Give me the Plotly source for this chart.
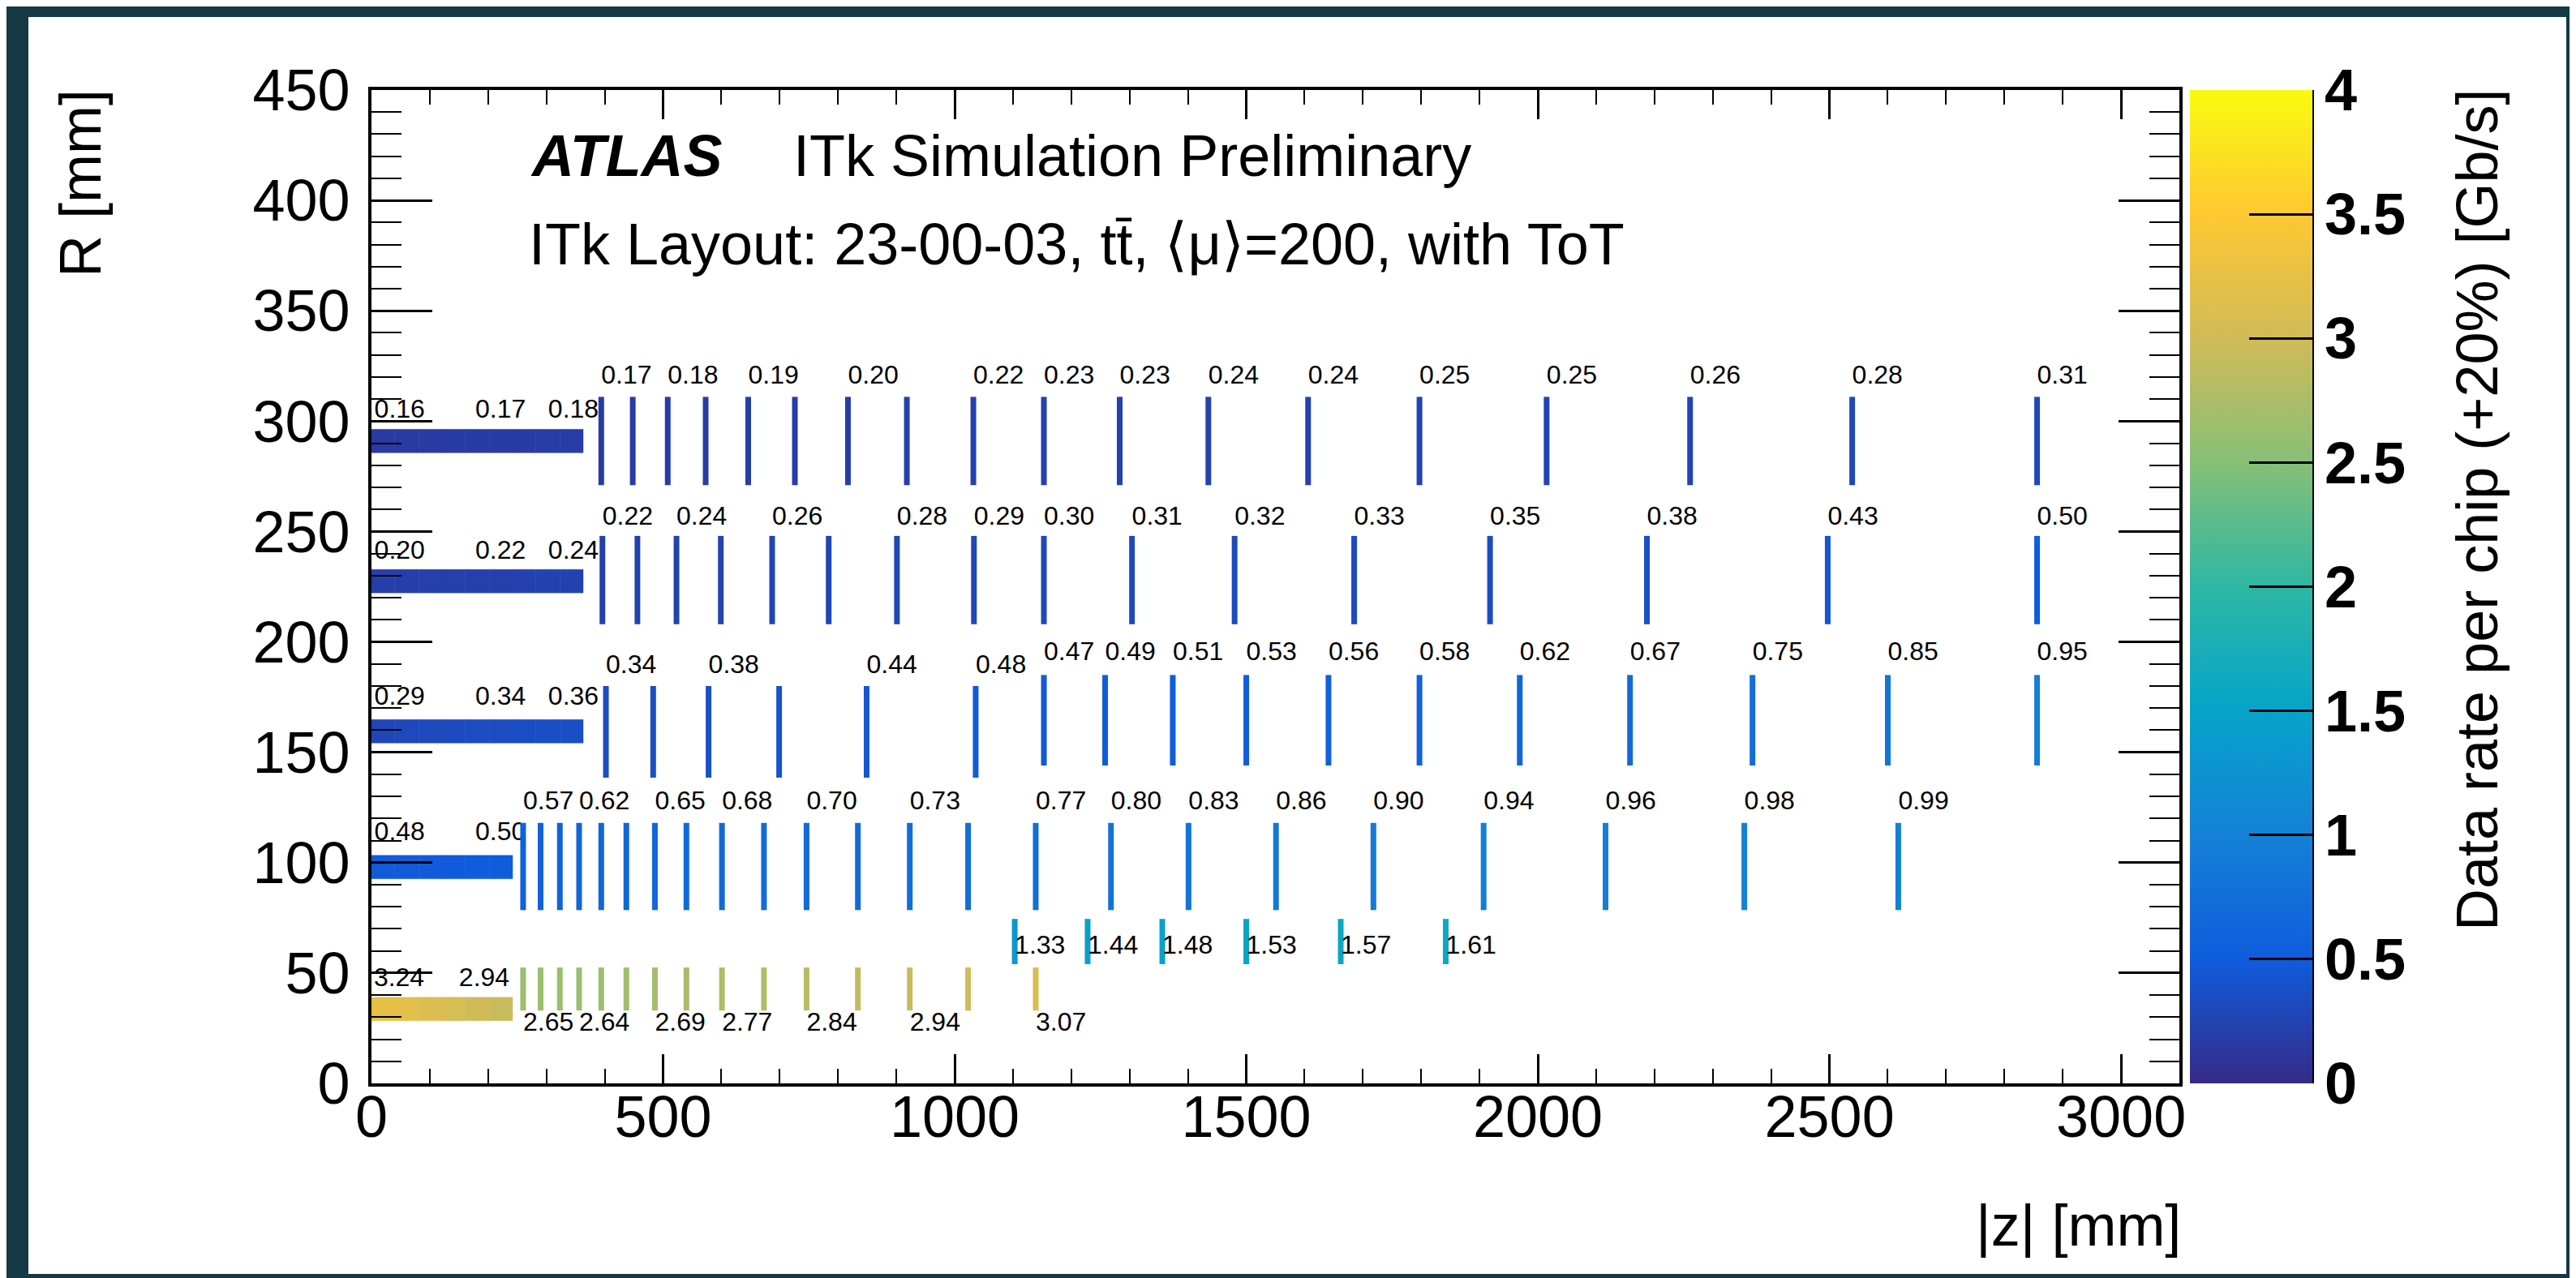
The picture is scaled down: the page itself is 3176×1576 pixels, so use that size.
import plotly.graph_objects as go
from plotly.colors import sample_colorscale

# ---------------- colour palette (ROOT kBird) ----------------
bird_stops = [0.0, 0.125, 0.25, 0.375, 0.5, 0.625, 0.75, 0.875, 1.0]
bird_r = [0.2082, 0.0592, 0.0780, 0.0232, 0.1802, 0.5301, 0.8186, 0.9956, 0.9764]
bird_g = [0.1664, 0.3599, 0.5041, 0.6419, 0.7178, 0.7492, 0.7328, 0.7862, 0.9832]
bird_b = [0.5293, 0.8684, 0.8385, 0.7914, 0.6425, 0.4662, 0.3499, 0.1968, 0.0539]

RATE_MIN, RATE_MAX = 0.0, 4.0

# ---------------- flat barrel layers ----------------
flat_names = ["L4", "L3", "L2", "L1", "L0"]
flat_R = [291, 227.5, 159.5, 98, 33.7]          # layer radius [mm]
flat_module_edges_long = [0, 40, 81, 121, 161, 202, 242, 282, 323, 363]   # |z| edges [mm]
flat_module_edges_short = [0, 40, 81, 121, 161, 202, 242]
L4_flat_rate = [0.16, 0.16, 0.16, 0.17, 0.17, 0.17, 0.17, 0.18, 0.18]
L3_flat_rate = [0.20, 0.20, 0.21, 0.21, 0.22, 0.22, 0.23, 0.24, 0.24]
L2_flat_rate = [0.29, 0.30, 0.31, 0.32, 0.34, 0.34, 0.35, 0.36, 0.36]
L1_flat_rate = [0.48, 0.48, 0.49, 0.49, 0.50, 0.50]
L0_flat_rate = [3.24, 3.20, 3.12, 3.06, 3.00, 2.94]

L4_flat_label_z = [5, 178, 303]
L4_flat_label = ["0.16", "0.17", "0.18"]
L3_flat_label_z = [5, 178, 303]
L3_flat_label = ["0.20", "0.22", "0.24"]
L2_flat_label_z = [5, 178, 303]
L2_flat_label = ["0.29", "0.34", "0.36"]
L1_flat_label_z = [5, 178]
L1_flat_label = ["0.48", "0.50"]
L0_flat_label_z = [4, 150]
L0_flat_label = ["3.24", "2.94"]
flat_label_R = [304.6, 240.5, 174.4, 113.1, 46.9]

# ---------------- rings (end-cap / inclined) ----------------
L4_ring_z = [394, 448, 508, 573, 646, 726, 817, 918, 1032, 1153, 1283, 1435, 1606, 1797, 2015, 2261, 2539, 2856]
L4_ring_rate = [0.17, 0.17, 0.18, 0.18, 0.19, 0.19, 0.20, 0.21, 0.22, 0.23, 0.23, 0.24, 0.24, 0.25, 0.25, 0.26, 0.28, 0.31]
L4_ring_label = ["0.17", "", "0.18", "", "0.19", "", "0.20", "", "0.22", "0.23", "0.23", "0.24", "0.24", "0.25", "0.25", "0.26", "0.28", "0.31"]

L3_ring_z = [396, 456, 523, 599, 687, 784, 901, 1033, 1153, 1304, 1480, 1685, 1918, 2187, 2497, 2856]
L3_ring_rate = [0.22, 0.23, 0.24, 0.25, 0.26, 0.27, 0.28, 0.29, 0.30, 0.31, 0.32, 0.33, 0.35, 0.38, 0.43, 0.50]
L3_ring_label = ["0.22", "", "0.24", "", "0.26", "", "0.28", "0.29", "0.30", "0.31", "0.32", "0.33", "0.35", "0.38", "0.43", "0.50"]

L2a_ring_z = [402, 483, 578, 699, 849, 1036]
L2a_ring_rate = [0.34, 0.36, 0.38, 0.41, 0.44, 0.48]
L2a_ring_label = ["0.34", "", "0.38", "", "0.44", "0.48"]

L2b_ring_z = [1153, 1258, 1374, 1500, 1641, 1797, 1969, 2158, 2368, 2600, 2856]
L2b_ring_rate = [0.47, 0.49, 0.51, 0.53, 0.56, 0.58, 0.62, 0.67, 0.75, 0.85, 0.95]
L2b_ring_label = ["0.47", "0.49", "0.51", "0.53", "0.56", "0.58", "0.62", "0.67", "0.75", "0.85", "0.95"]

L1_ring_z = [260, 290, 323, 356, 394, 437, 486, 540, 601, 673, 746, 834, 923, 1023, 1139, 1268, 1401, 1551, 1718, 1907, 2116, 2354, 2618]
L1_ring_rate = [0.57, 0.58, 0.60, 0.62, 0.63, 0.64, 0.65, 0.67, 0.68, 0.69, 0.70, 0.72, 0.73, 0.75, 0.77, 0.80, 0.83, 0.86, 0.90, 0.94, 0.96, 0.98, 0.99]
L1_ring_label = ["0.57", "", "", "0.62", "", "", "0.65", "", "0.68", "", "0.70", "", "0.73", "", "0.77", "0.80", "0.83", "0.86", "0.90", "0.94", "0.96", "0.98", "0.99"]

L0c_ring_z = [1103, 1228, 1356, 1500, 1662, 1842]
L0c_ring_rate = [1.33, 1.44, 1.48, 1.53, 1.57, 1.61]
L0c_ring_label = ["1.33", "1.44", "1.48", "1.53", "1.57", "1.61"]

L0_ring_z = [260, 290, 323, 356, 394, 437, 486, 540, 601, 673, 746, 834, 923, 1023, 1139]
L0_ring_rate = [2.65, 2.65, 2.64, 2.64, 2.66, 2.67, 2.69, 2.73, 2.77, 2.80, 2.84, 2.89, 2.94, 3.00, 3.07]
L0_ring_label = ["2.65", "", "", "2.64", "", "", "2.69", "", "2.77", "", "2.84", "", "2.94", "", "3.07"]

# radial extent of each ring group and radius of its labels [mm]
ring_groups = [
    (L4_ring_z, L4_ring_rate, L4_ring_label, 271, 311, 320),
    (L3_ring_z, L3_ring_rate, L3_ring_label, 208, 248, 256),
    (L2a_ring_z, L2a_ring_rate, L2a_ring_label, 138.5, 180, 189),
    (L2b_ring_z, L2b_ring_rate, L2b_ring_label, 144, 185, 194.6),
    (L1_ring_z, L1_ring_rate, L1_ring_label, 78.5, 118, 127.2),
    (L0c_ring_z, L0c_ring_rate, L0c_ring_label, 54, 74.5, 61.6),
    (L0_ring_z, L0_ring_rate, L0_ring_label, 33, 52.5, 26.7),
]

flat_groups = [
    (flat_module_edges_long, L4_flat_rate, L4_flat_label_z, L4_flat_label),
    (flat_module_edges_long, L3_flat_rate, L3_flat_label_z, L3_flat_label),
    (flat_module_edges_long, L2_flat_rate, L2_flat_label_z, L2_flat_label),
    (flat_module_edges_short, L1_flat_rate, L1_flat_label_z, L1_flat_label),
    (flat_module_edges_short, L0_flat_rate, L0_flat_label_z, L0_flat_label),
]

# ---------------- styling ----------------
FONT = "Liberation Sans, Arial, Helvetica, sans-serif"
colorscale = [[s, "rgb(%d,%d,%d)" % (round(r * 255), round(g * 255), round(b * 255))]
              for s, r, g, b in zip(bird_stops, bird_r, bird_g, bird_b)]


def rate_color(v):
    f = (v - RATE_MIN) / (RATE_MAX - RATE_MIN)
    f = min(max(f, 0.0), 1.0)
    return sample_colorscale(colorscale, [f])[0]


fig = go.Figure()

# flat barrel staves: one filled rectangle per module
half_thick = 5.3
for (edges, rates, lz, lt), R, lR in zip(flat_groups, flat_R, flat_label_R):
    for i, v in enumerate(rates):
        z0, z1 = edges[i], edges[i + 1]
        c = rate_color(v)
        fig.add_trace(go.Scatter(
            x=[z0, z1, z1, z0, z0],
            y=[R - half_thick, R - half_thick, R + half_thick, R + half_thick, R - half_thick],
            mode="lines", fill="toself", fillcolor=c,
            line=dict(width=0.5, color=c),
            hoverinfo="skip", showlegend=False))
    fig.add_trace(go.Scatter(
        x=lz, y=[lR] * len(lz), mode="text", text=lt,
        textposition="middle right",
        textfont=dict(family=FONT, size=32, color="black"),
        hoverinfo="skip", showlegend=False))

# rings
for zs, rates, labels, r0, r1, lR in ring_groups:
    for z, v in zip(zs, rates):
        fig.add_trace(go.Scatter(
            x=[z, z], y=[r0, r1], mode="lines",
            line=dict(width=7, color=rate_color(v)),
            hoverinfo="skip", showlegend=False))
    lx = [z for z, t in zip(zs, labels) if t]
    lt = [t for t in labels if t]
    fig.add_trace(go.Scatter(
        x=lx, y=[lR] * len(lx), mode="text", text=lt,
        textposition="middle right",
        textfont=dict(family=FONT, size=32, color="black"),
        hoverinfo="skip", showlegend=False))

# colour bar carrier (invisible points)
all_rates = [v for g in ring_groups for v in g[1]]
all_z = [z for g in ring_groups for z in g[0]]
all_r = [(g[3] + g[4]) / 2 for g in ring_groups for _ in g[0]]
fig.add_trace(go.Scatter(
    x=all_z, y=all_r, mode="markers",
    marker=dict(size=1, opacity=0, color=all_rates, cmin=RATE_MIN, cmax=RATE_MAX,
                colorscale=colorscale, showscale=True,
                colorbar=dict(
                    x=1.00583, xanchor="left", xpad=0, ypad=0,
                    y=0.5, yanchor="middle", len=1.0, lenmode="fraction",
                    thickness=151, thicknessmode="pixels",
                    outlinewidth=0,
                    tickmode="array",
                    tickvals=[0, 0.5, 1, 1.5, 2, 2.5, 3, 3.5, 4],
                    ticktext=["0", "0.5", "1", "1.5", "2", "2.5", "3", "3.5", "4"],
                    ticks="inside", ticklen=78, tickwidth=3, tickcolor="black",
                    tickfont=dict(family=FONT, size=72, color="black", weight="bold"),
                )),
    hoverinfo="skip", showlegend=False))

# ---------------- layout ----------------
W, H = 3176, 1576
L, Rm, T, B = 450, 497, 103, 248
pw, ph = W - L - Rm, H - T - B


def px(xpix):
    return (xpix - L) / pw


def py(ypix):
    return (H - B - ypix) / ph


fig.update_layout(
    width=W, height=H, autosize=False,
    margin=dict(l=L, r=Rm, t=T, b=B, pad=0),
    paper_bgcolor="#153845", plot_bgcolor="white",
    showlegend=False,
    xaxis=dict(range=[0, 3100], tick0=0, dtick=500, tickmode="linear",
               ticks="inside", ticklen=36, tickwidth=3, tickcolor="black",
               showline=True, linewidth=4, linecolor="black", mirror="ticks",
               showgrid=False, zeroline=False,
               tickfont=dict(family=FONT, size=72, color="black"),
               ticklabelstandoff=-24,
               minor=dict(ticks="inside", ticklen=18, tickwidth=2, tickcolor="black",
                          dtick=100, tick0=0, showgrid=False)),
    yaxis=dict(range=[0, 450], tick0=0, dtick=50, tickmode="linear",
               ticks="inside", ticklen=75, tickwidth=3, tickcolor="black",
               showline=True, linewidth=4, linecolor="black", mirror="ticks",
               showgrid=False, zeroline=False,
               tickfont=dict(family=FONT, size=72, color="black"),
               ticklabelstandoff=8,
               minor=dict(ticks="inside", ticklen=37, tickwidth=2, tickcolor="black",
                          dtick=10, tick0=0, showgrid=False)),
    shapes=[
        dict(type="rect", xref="paper", yref="paper",
             x0=px(27), x1=px(3156), y0=py(1563), y1=py(13),
             fillcolor="white", line=dict(width=0), layer="below"),
        dict(type="line", xref="paper", yref="paper",
             x0=px(2843), x1=px(2843), y0=0, y1=1,
             line=dict(color="black", width=4)),
    ],
    annotations=[
        dict(text="<b><i>ATLAS</i></b>", xref="paper", yref="paper",
             x=px(644), y=py(184), xanchor="left", yanchor="middle", showarrow=False,
             font=dict(family=FONT, size=72, color="black")),
        dict(text="ITk Simulation Preliminary", xref="paper", yref="paper",
             x=px(968), y=py(184), xanchor="left", yanchor="middle", showarrow=False,
             font=dict(family=FONT, size=72, color="black")),
        dict(text="ITk Layout: 23-00-03, tt\u0304, \u27e8\u03bc\u27e9=200, with ToT",
             xref="paper", yref="paper",
             x=px(642), y=py(293), xanchor="left", yanchor="middle", showarrow=False,
             font=dict(family=FONT, size=72, color="black")),
        dict(text="R [mm]", xref="paper", yref="paper", textangle=-90,
             x=px(91), y=py(100), xanchor="center", yanchor="top", showarrow=False,
             font=dict(family=FONT, size=72, color="black")),
        dict(text="|z| [mm]", xref="paper", yref="paper",
             x=px(2683), y=py(1503), xanchor="right", yanchor="middle", showarrow=False,
             font=dict(family=FONT, size=72, color="black")),
        dict(text="Data rate per chip (+20%) [Gb/s]", xref="paper", yref="paper", textangle=-90,
             x=px(3046), y=py(100), xanchor="center", yanchor="top", showarrow=False,
             font=dict(family=FONT, size=72, color="black")),
    ],
)

fig.write_html("out.html")
